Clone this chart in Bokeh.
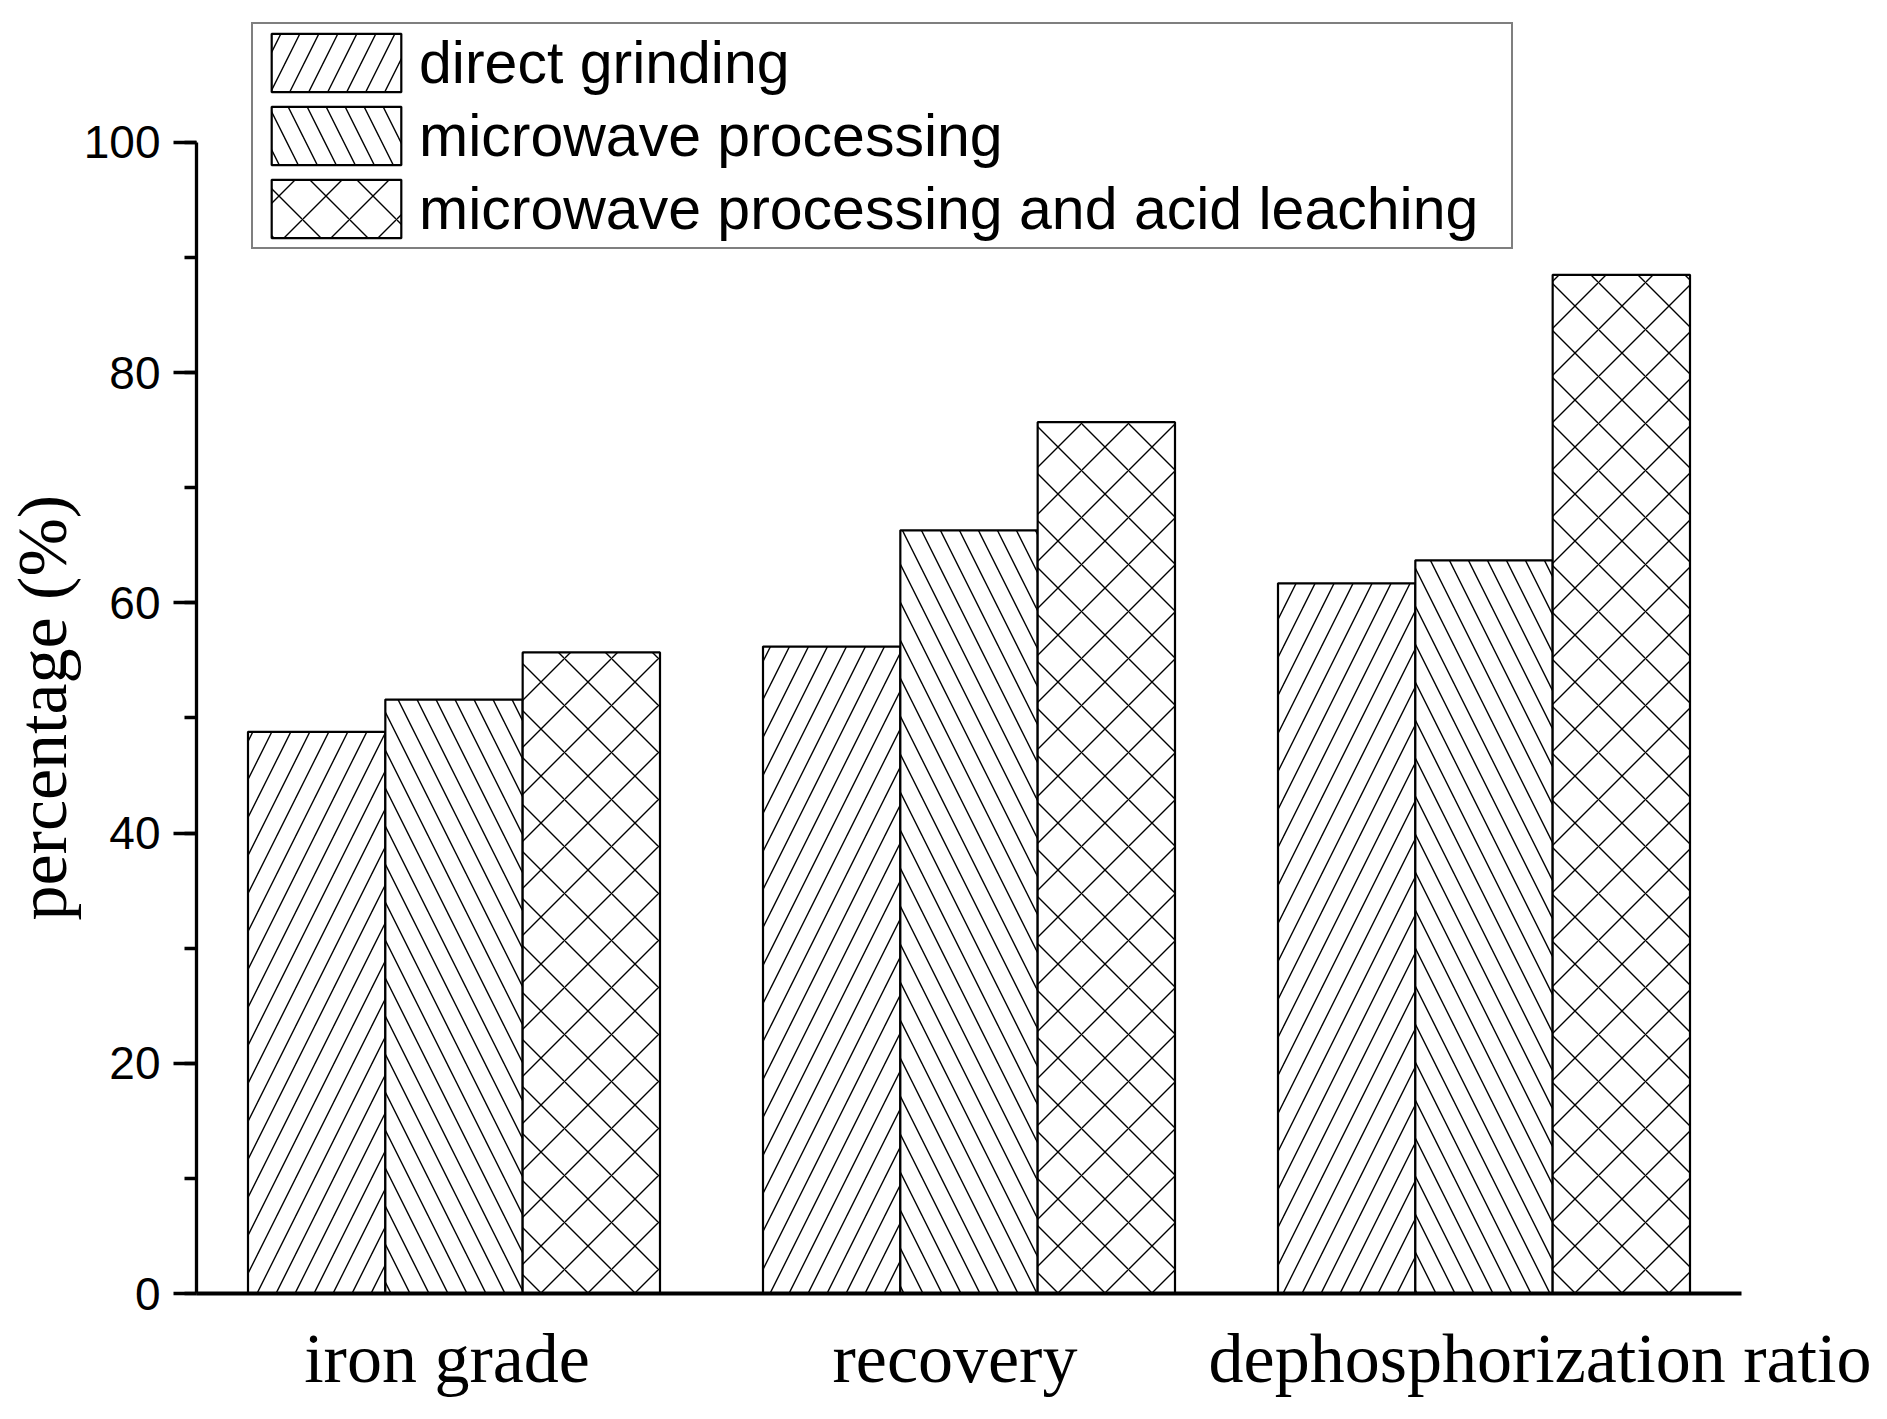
from bokeh.plotting import figure
from bokeh.models import (FactorRange, Range1d, SingleIntervalTicker, Legend,
                          LegendItem, ColumnDataSource, Title,
                          CustomJSTickFormatter)
from bokeh.transform import dodge
from bokeh.embed import file_html
from bokeh.resources import INLINE

# ---- data ----
categories = ["iron grade", "recovery", "dephosphorization ratio"]
direct_grinding = [48.8, 56.2, 61.7]
microwave_processing = [51.6, 66.3, 63.7]
microwave_acid_leaching = [55.7, 75.7, 88.5]
series_labels = ["direct grinding", "microwave processing",
                 "microwave processing and acid leaching"]
y_label = "percentage (%)"
y_ticks_interval = 20

# ---- figure ----
src = ColumnDataSource(dict(cat=categories, s0=direct_grinding,
                            s1=microwave_processing, s2=microwave_acid_leaching))

p = figure(x_range=FactorRange(*categories), y_range=Range1d(0, 111.9),
           width=1871, height=1403, output_backend="svg", toolbar_location=None,
           min_border_left=196, min_border_right=130, min_border_top=5,
           min_border_bottom=110)
p.outline_line_color = None
p.xgrid.visible = False
p.ygrid.visible = False
p.background_fill_color = "white"
p.border_fill_color = "white"

bw = 0.8 / 3
hatches = ["/", "\\", "x"]
hatch_scales = [38, 38, 47]
renderers = []
for i, col in enumerate(["s0", "s1", "s2"]):
    r = p.vbar(x=dodge("cat", (i - 1) * bw, range=p.x_range), top=col, width=bw,
               bottom=0, source=src, fill_color="white", line_color="black",
               line_width=2.2, hatch_pattern=hatches[i], hatch_color="black",
               hatch_weight=1.4, hatch_scale=hatch_scales[i])
    renderers.append(r)

legend = Legend(items=[LegendItem(label=series_labels[i], renderers=[renderers[i]])
                       for i in range(3)],
                location=(55, 1044))
legend.label_text_font = "Liberation Sans"
legend.label_text_font_size = "59px"
legend.label_text_color = "black"
legend.glyph_width = 162
legend.glyph_height = 73
legend.label_height = 73
legend.label_width = 1090
legend.spacing = 0
legend.padding = 2
legend.margin = 0
legend.label_standoff = 2
legend.border_line_color = "black"
legend.border_line_width = 2
legend.background_fill_color = "white"
legend.background_fill_alpha = 1
p.add_layout(legend)

# y axis
yax = p.yaxis[0]
yax.bounds = (0, 100)
yax.ticker = SingleIntervalTicker(interval=y_ticks_interval, num_minor_ticks=2)
yax.major_label_text_font = "Liberation Sans"
yax.major_label_text_font_size = "46px"
yax.major_label_text_color = "black"
yax.major_label_standoff = 13
yax.axis_line_width = 3.3
yax.axis_line_color = "black"
yax.major_tick_in = 0
yax.major_tick_out = 23
yax.minor_tick_in = 0
yax.minor_tick_out = 12
yax.major_tick_line_width = 3.3
yax.minor_tick_line_width = 3.3
yax.major_tick_line_color = "black"
yax.minor_tick_line_color = "black"

# y axis title (placed as a left-side title so it centres on the 0-100 span)
ytitle = Title(text=y_label, align="left", offset=373, standoff=0,
               text_font="Liberation Serif", text_font_size="70px",
               text_font_style="normal", text_color="black")
p.add_layout(ytitle, "left")

# x axis
xax = p.xaxis[0]
xax.axis_line_width = 4
xax.axis_line_color = "black"
xax.major_tick_in = 0
xax.major_tick_out = 0
xax.major_label_text_font = "Liberation Serif"
xax.major_label_text_font_size = "70px"
xax.major_label_text_color = "black"
xax.major_label_standoff = 26
xax.formatter = CustomJSTickFormatter(code="""
const pre = {"dephosphorization ratio": "\\u2003\\u2002\\u2009"};
const post = {"iron grade": "\\u2009", "recovery": "\\u2009\\u2009"};
return (pre[tick] || "") + tick + (post[tick] || "");
""")

open("out.html", "w").write(file_html(p, INLINE))
